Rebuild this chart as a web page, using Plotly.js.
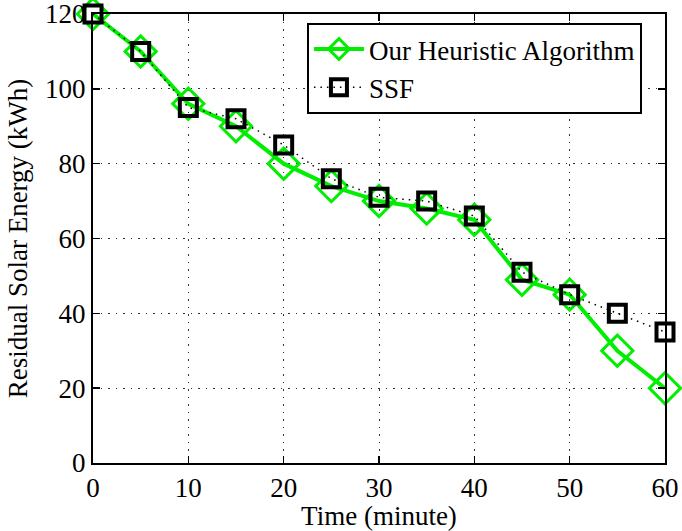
<!DOCTYPE html>
<html>
<head>
<meta charset="utf-8">
<script src="https://cdn.plot.ly/plotly-3.0.1.min.js"></script>
<style>html,body{margin:0;padding:0;background:#fff;}#chart{width:682px;height:531px;}</style>
</head>
<body>
<div id="chart"></div>
<script>
const timeMinutes = [0, 5, 10, 15, 20, 25, 30, 35, 40, 45, 50, 55, 60];
const heuristicEnergy = [120, 110, 96, 90, 80, 74, 70, 68, 65, 49, 45, 30, 20];
const ssfEnergy = [120, 110, 95, 92, 85, 76, 71, 70, 66, 51, 45, 40, 35];
const xTicks = [0, 10, 20, 30, 40, 50, 60];
const yTicks = [0, 20, 40, 60, 80, 100, 120];

const fam = 'Liberation Serif, Times New Roman, serif';
const tickFont = {family: fam, size: 27, color: '#000'};
const titleFont = {family: fam, size: 27, color: '#000'};

const traces = [
  {
    x: timeMinutes, y: heuristicEnergy, name: 'Our Heuristic Algorithm',
    mode: 'lines+markers', type: 'scatter', cliponaxis: false,
    line: {color: '#00ee00', width: 4},
    marker: {symbol: 'diamond-open', size: 24, color: '#00ee00', line: {width: 3, color: '#00ee00'}}
  },
  {
    x: timeMinutes, y: ssfEnergy, name: 'SSF',
    mode: 'lines+markers', type: 'scatter', cliponaxis: false,
    line: {color: '#000', width: 1.5, dash: '1.5px,5px'},
    marker: {symbol: 'square-open', size: 17, color: '#000', line: {width: 4, color: '#000'}}
  }
];

const axisCommon = {
  showline: true, linecolor: '#000', linewidth: 2, mirror: 'ticks',
  ticks: 'inside', ticklen: 7, tickwidth: 1.5, tickcolor: '#000',
  showgrid: true, gridcolor: '#333', gridwidth: 1, griddash: '1.5px,6px',
  zeroline: false, tickfont: tickFont, ticklabeloverflow: 'allow'
};

const layout = {
  width: 682, height: 531,
  margin: {l: 93, r: 17, t: 14, b: 68},
  paper_bgcolor: '#fff', plot_bgcolor: '#fff',
  font: tickFont,
  showlegend: true,
  legend: {
    x: 0.374, y: 0.98, xanchor: 'left', yanchor: 'top',
    bordercolor: '#000', borderwidth: 2, bgcolor: '#fff',
    font: titleFont, tracegroupgap: 0, itemwidth: 50
  },
  xaxis: Object.assign({}, axisCommon, {
    range: [0, 60], tickvals: xTicks,
    title: {text: 'Time (minute)', font: titleFont, standoff: 0}
  }),
  yaxis: Object.assign({}, axisCommon, {
    range: [0, 120], tickvals: yTicks,
    title: {text: 'Residual Solar Energy (kWh)', font: titleFont, standoff: 10}
  })
};

Plotly.newPlot('chart', traces, layout, {displayModeBar: false, staticPlot: true});
</script>
</body>
</html>
